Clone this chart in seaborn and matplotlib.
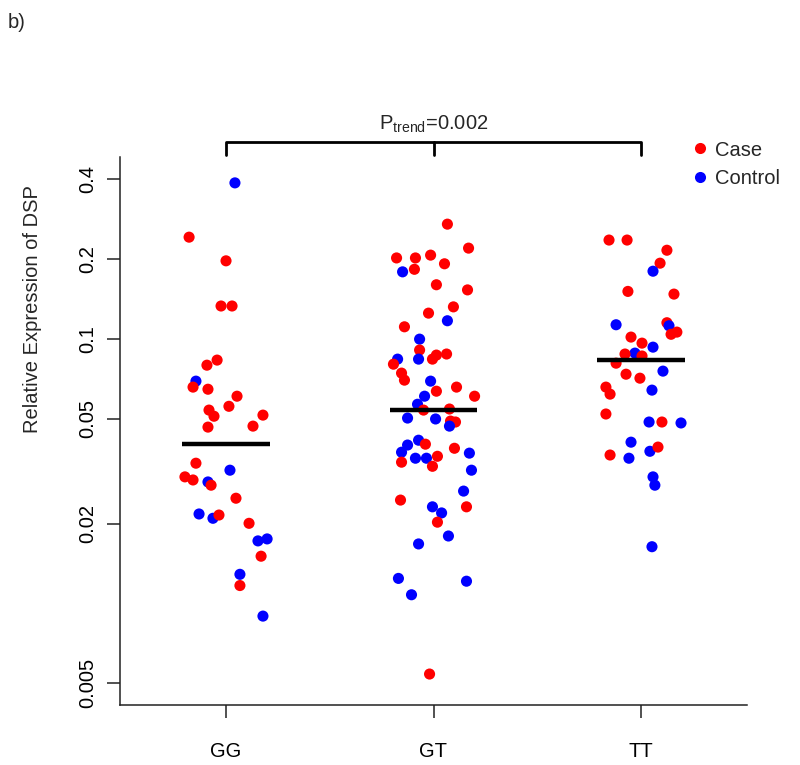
import matplotlib
import matplotlib.pyplot as plt
import pandas as pd
import seaborn as sns
from matplotlib.lines import Line2D

matplotlib.use("Agg")

GENOTYPES = ["GG", "GT", "TT"]
GROUP_COLORS = {"Case": "#FF0000", "Control": "#0000FF"}

# relative expression of DSP per genotype
gg_values = [0.388, 0.242, 0.197, 0.133, 0.133, 0.0831, 0.0795, 0.0692, 0.0657, 0.0645,
             0.0607, 0.0538, 0.0556, 0.0510, 0.0515, 0.0464, 0.0468, 0.0339, 0.0301, 0.0293,
             0.0288, 0.0280, 0.0319, 0.0250, 0.0218, 0.0210, 0.0216, 0.0201, 0.01725, 0.01755,
             0.0151, 0.0129, 0.0117, 0.00897]
gg_groups = ["Control", "Case", "Case", "Case", "Case", "Case", "Case", "Control", "Case", "Case",
             "Case", "Case", "Case", "Case", "Case", "Case", "Case", "Case", "Case", "Case",
             "Control", "Case", "Control", "Case", "Control", "Control", "Case", "Case", "Control", "Control",
             "Case", "Control", "Case", "Control"]
gg_jitter = [0.043, -0.178, 0.0, -0.024, 0.029, -0.043, -0.092, -0.145, -0.159, -0.087,
             0.053, -0.082, 0.014, -0.058, 0.178, -0.087, 0.130, -0.145, -0.198, -0.159,
             -0.087, -0.072, 0.019, 0.048, -0.130, -0.063, -0.034, 0.111, 0.154, 0.198,
             0.169, 0.067, 0.067, 0.178]

gt_values = [0.271, 0.220, 0.202, 0.202, 0.207, 0.192, 0.183, 0.179, 0.160, 0.153,
             0.132, 0.125, 0.117, 0.111, 0.0997, 0.0907, 0.0838, 0.0838, 0.0838, 0.0868,
             0.0876, 0.0802, 0.0742, 0.0698, 0.0692, 0.0657, 0.0634, 0.0607, 0.0607, 0.0566,
             0.0538, 0.0543, 0.0502, 0.0498, 0.0489, 0.0485, 0.0468, 0.0414, 0.0400, 0.0397,
             0.0386, 0.0373, 0.0370, 0.0354, 0.0354, 0.0360, 0.0342, 0.0330, 0.0319, 0.0266,
             0.0246, 0.0232, 0.0232, 0.0220, 0.0203, 0.0180, 0.0168, 0.01245, 0.01215, 0.0108,
             0.00542]
gt_groups = ["Case", "Case", "Case", "Case", "Case", "Case", "Case", "Control", "Case", "Case",
             "Case", "Case", "Control", "Case", "Control", "Case", "Control", "Control", "Case", "Case",
             "Case", "Case", "Case", "Case", "Control", "Case", "Case", "Case", "Control", "Control",
             "Case", "Case", "Control", "Control", "Case", "Case", "Control", "Control", "Case", "Control",
             "Case", "Control", "Control", "Control", "Control", "Case", "Case", "Case", "Control", "Control",
             "Case", "Control", "Case", "Control", "Case", "Control", "Control", "Control", "Control", "Control",
             "Case"]
gt_jitter = [0.067, 0.169, -0.178, -0.087, -0.014, 0.053, -0.092, -0.149, 0.014, 0.164,
             0.096, -0.024, 0.067, -0.140, -0.067, -0.067, -0.173, -0.072, -0.005, 0.014,
             0.063, -0.193, -0.154, -0.140, -0.014, 0.111, 0.014, 0.198, -0.043, -0.077,
             -0.048, 0.077, -0.125, 0.010, 0.082, 0.106, 0.077, -0.072, -0.039, -0.125,
             0.101, -0.154, 0.173, -0.087, -0.034, 0.019, -0.154, -0.005, 0.183, 0.145,
             -0.159, -0.005, 0.159, 0.039, 0.019, 0.072, -0.072, -0.169, 0.159, -0.106,
             -0.019]

tt_values = [0.236, 0.236, 0.216, 0.193, 0.180, 0.151, 0.1475, 0.113, 0.115, 0.112,
             0.106, 0.104, 0.1015, 0.0963, 0.0930, 0.0883, 0.0876, 0.0861, 0.0809, 0.0755,
             0.0735, 0.0710, 0.0657, 0.0640, 0.0618, 0.0520, 0.0485, 0.0485, 0.0481, 0.0407,
             0.0376, 0.0390, 0.0364, 0.0354, 0.0301, 0.0280, 0.0164]
tt_groups = ["Case", "Case", "Case", "Case", "Control", "Case", "Case", "Control", "Case", "Control",
             "Case", "Case", "Case", "Case", "Control", "Control", "Case", "Case", "Case", "Control",
             "Case", "Case", "Case", "Control", "Case", "Case", "Control", "Case", "Control", "Control",
             "Control", "Case", "Case", "Control", "Control", "Control", "Control"]
tt_jitter = [-0.154, -0.067, 0.125, 0.092, 0.058, -0.063, 0.159, -0.120, 0.125, 0.135,
             0.173, 0.145, -0.048, 0.005, 0.058, -0.029, -0.077, 0.005, -0.120, 0.106,
             -0.072, -0.005, -0.169, 0.053, -0.149, -0.169, 0.039, 0.101, 0.193, -0.048,
             0.043, 0.082, -0.149, -0.058, 0.058, 0.067, 0.053]

# horizontal bars drawn over each genotype
group_means = [0.0400, 0.0538, 0.0831]

Y_TICKS = [0.005, 0.02, 0.05, 0.1, 0.2, 0.4]
Y_TICK_LABELS = ["0.005", "0.02", "0.05", "0.1", "0.2", "0.4"]

FS = 14.5


def build_frame() -> pd.DataFrame:
    parts = []
    for i, (vals, grps, jit) in enumerate([(gg_values, gg_groups, gg_jitter),
                                           (gt_values, gt_groups, gt_jitter),
                                           (tt_values, tt_groups, tt_jitter)]):
        parts.append(pd.DataFrame({
            "genotype": GENOTYPES[i],
            "pos": [i + j for j in jit],
            "expr": vals,
            "group": grps,
        }))
    return pd.concat(parts, ignore_index=True)


def main():
    sns.set_style("ticks")
    plt.rcParams["font.family"] = ["Liberation Sans", "DejaVu Sans"]
    plt.rcParams["mathtext.fontset"] = "custom"
    plt.rcParams["mathtext.rm"] = "Liberation Sans"
    plt.rcParams["mathtext.it"] = "Liberation Sans"

    df = build_frame()

    fig = plt.figure(figsize=(8, 7.65), dpi=100)
    ax = fig.add_axes([0.15, 0.0784, 0.78375, 0.7164])

    sns.scatterplot(
        data=df, x="pos", y="expr", hue="group", palette=GROUP_COLORS,
        s=64, linewidth=0, ax=ax, legend=False, zorder=2,
    )

    # mean bars
    for i, m in enumerate(group_means):
        ax.plot([i - 0.21, i + 0.21], [m, m], color="black", lw=3.2,
                solid_capstyle="butt", zorder=3)

    ax.set_yscale("log")
    ax.set_ylim(0.00414, 0.486)
    ax.set_xlim(-0.511, 2.511)
    ax.set_yticks(Y_TICKS)
    ax.set_yticklabels(Y_TICK_LABELS)
    ax.yaxis.set_minor_locator(matplotlib.ticker.NullLocator())
    ax.set_xticks(range(len(GENOTYPES)))
    ax.set_xticklabels(GENOTYPES)

    ax.tick_params(axis="both", direction="out", length=9.5, width=1.1,
                   color="#222222", labelsize=FS, labelcolor="black")
    ax.tick_params(axis="y", pad=7)
    ax.tick_params(axis="x", pad=17)
    plt.setp(ax.get_yticklabels(), rotation=90, va="center")

    ax.set_xlabel("")
    ax.set_ylabel("Relative Expression of DSP", fontsize=FS)
    ax.yaxis.set_label_coords(-0.124, 0.7226)

    sns.despine(ax=ax, top=True, right=True)
    for side in ("left", "bottom"):
        ax.spines[side].set_linewidth(1.1)
        ax.spines[side].set_color("#222222")

    # trend bracket above the groups
    trans = ax.get_xaxis_transform()
    ax.plot([0, 0, 2, 2], [1.0036, 1.0274, 1.0274, 1.0036], color="black",
            lw=2.0, transform=trans, clip_on=False)
    ax.plot([1, 1], [1.0274, 1.0036], color="black", lw=2.0,
            transform=trans, clip_on=False)
    ax.text(1, 1.049, r"P$_{\mathrm{trend}}$=0.002", transform=trans,
            ha="center", va="baseline", fontsize=FS)

    handles = [
        Line2D([], [], marker="o", linestyle="none", markersize=8,
               markerfacecolor=c, markeredgewidth=0, label=g)
        for g, c in GROUP_COLORS.items()
    ]
    ax.legend(handles=handles, loc="upper left", bbox_to_anchor=(0.911, 1.03),
              frameon=False, fontsize=FS, handlelength=0.9, handletextpad=0.3,
              borderpad=0, borderaxespad=0, labelspacing=0.45)

    fig.text(0.01, 1 - 22 / 765, "b)", fontsize=FS, va="center", ha="left")

    fig.savefig("out.png", dpi=100)
    plt.close(fig)


if __name__ == "__main__":
    main()
